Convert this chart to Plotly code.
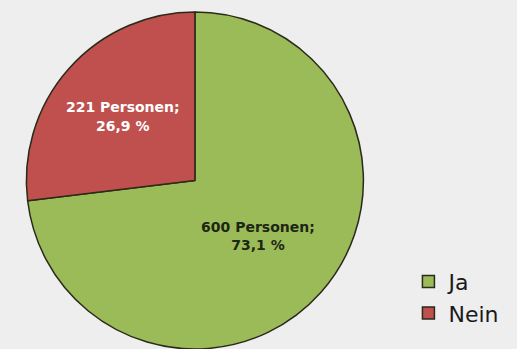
import plotly.graph_objects as go

labels = ["Ja", "Nein"]
values = [600, 221]
colors = ["#9bbb59", "#c0504d"]
text_colors = ["#1e2614", "#ffffff"]

total = sum(values)
percents = [v / total * 100 for v in values]

fig = go.Figure(go.Pie(
    labels=labels,
    values=values,
    customdata=percents,
    sort=False,
    direction="clockwise",
    rotation=0,
    marker=dict(colors=colors, line=dict(color="#2a2a1a", width=1.5)),
    texttemplate="%{value} Personen;<br>%{customdata:.1f} %",
    textposition="inside",
    insidetextorientation="horizontal",
    textfont=dict(family="DejaVu Sans", size=14, color=text_colors, weight="bold"),
    hoverinfo="none",
    domain=dict(x=[0.047, 0.707], y=[0, 1]),
))

fig.update_layout(
    width=517, height=349,
    margin=dict(l=0, r=0, t=12, b=0),
    paper_bgcolor="#eeeeee",
    plot_bgcolor="#eeeeee",
    separators=",.",
    showlegend=True,
    legend=dict(
        x=0.79, y=0.262, xanchor="left", yanchor="top",
        font=dict(family="DejaVu Sans", size=22, color="#1a1a1a"),
        bgcolor="rgba(0,0,0,0)",
    ),
)

fig.write_html("out.html", config={"displayModeBar": False},
               post_script="document.body.style.margin='0';")
